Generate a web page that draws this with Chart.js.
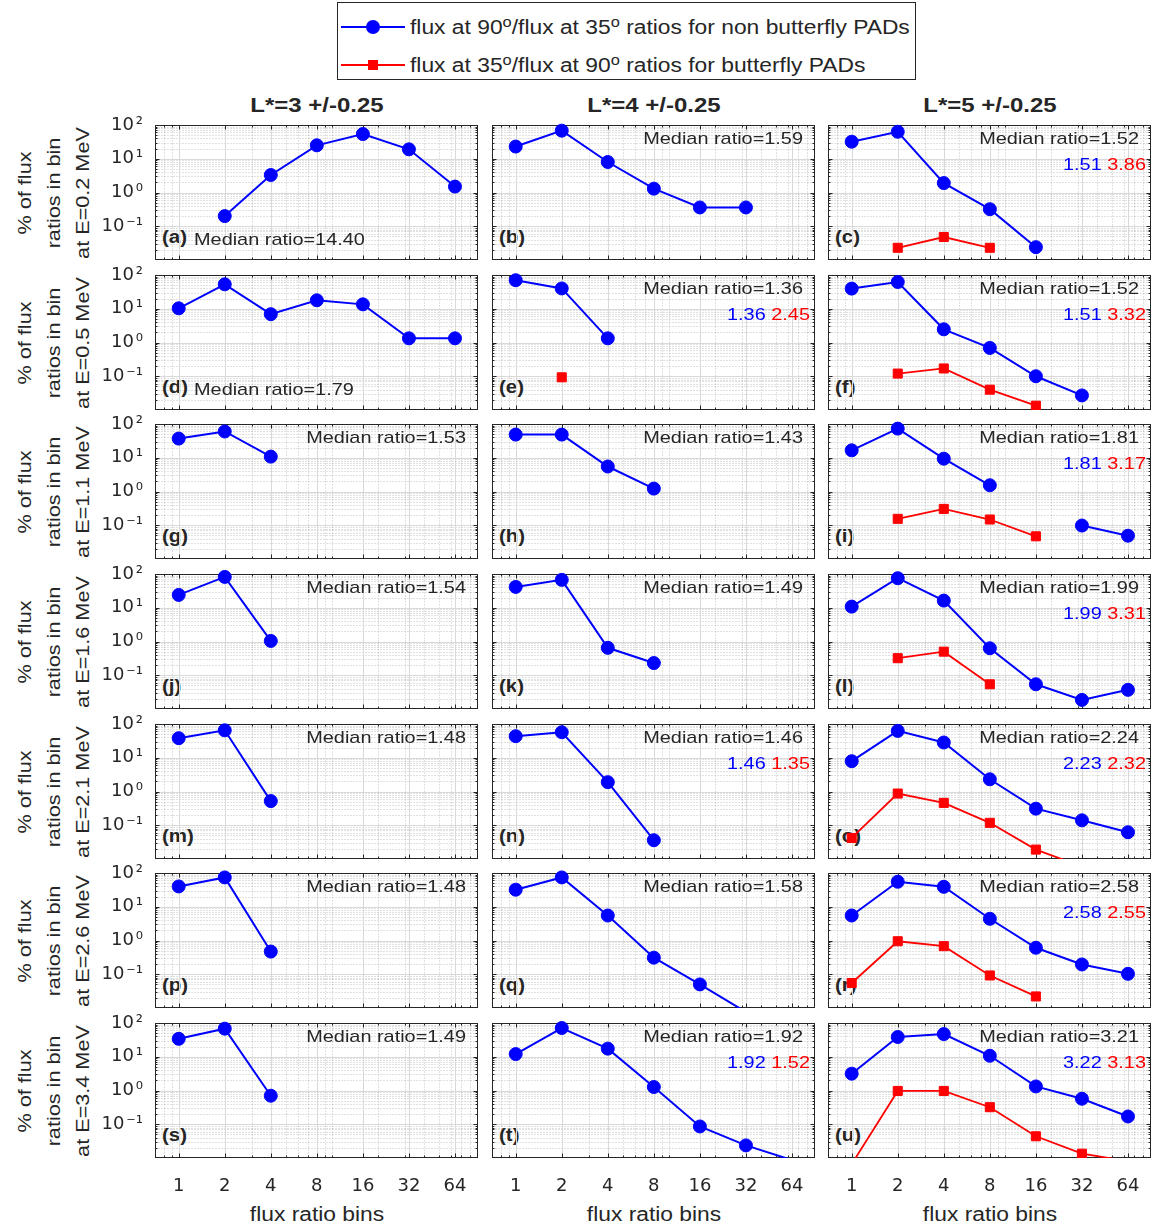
<!DOCTYPE html>
<html><head><meta charset="utf-8">
<script src="https://cdn.jsdelivr.net/npm/chart.js@4/dist/chart.umd.min.js"></script>
<style>
html,body{margin:0;padding:0;background:#fff;}
#fig{position:relative;width:1156px;height:1230px;overflow:hidden;background:#fff;font-family:"Liberation Sans",Arial,sans-serif;color:#262626;}
.t{position:absolute;white-space:nowrap;line-height:1;z-index:1;}
.t.front{z-index:3;}
canvas{position:absolute;z-index:2;}
#legendBox{position:absolute;left:337px;top:2px;width:577px;height:76px;border:1px solid #262626;z-index:0;}
.sw{position:absolute;z-index:1;}
</style></head>
<body><div id="fig"><div id="legendBox"></div></div>
<script>
// ---------------- DATA ----------------
const bins = [1, 2, 4, 8, 16, 32, 64];
const yTickValues = [0.1, 1, 10, 100];
const yTickLabels = ['10\u200A\u207B\u00B9', '10\u200A\u2070', '10\u200A\u00B9', '10\u200A\u00B2'];
const energies = ['0.2', '0.5', '1.1', '1.6', '2.1', '2.6', '3.4'];
const lShells = ['L*=3 +/-0.25', 'L*=4 +/-0.25', 'L*=5 +/-0.25'];
const lettersL3 = ['a', 'd', 'g', 'j', 'm', 'p', 's'];
const lettersL4 = ['b', 'e', 'h', 'k', 'n', 'q', 't'];
const lettersL5 = ['c', 'f', 'i', 'l', 'o', 'r', 'u'];

// % of flux ratios in each bin, non butterfly PADs (blue), rows = energies
const nonButterflyL3 = [
  [null, 0.2, 3.3, 25, 54, 19, 1.5],
  [10.3, 53, 6.9, 17.8, 13.5, 1.33, 1.33],
  [37, 60, 10.8, null, null, null, null],
  [24, 82, 1.04, null, null, null, null],
  [38, 65, 0.52, null, null, null, null],
  [40, 74, 0.47, null, null, null, null],
  [34, 68, 0.70, null, null, null, null]
];
const nonButterflyL4 = [
  [23, 68, 8, 1.3, 0.36, 0.36, null],
  [70, 40, 1.33, null, null, null, null],
  [48.5, 48.5, 5.5, 1.22, null, null, null],
  [41.5, 67, 0.65, 0.23, null, null, null],
  [43.5, 57, 1.89, 0.036, null, null, null],
  [32, 74, 5.5, 0.31, 0.05, 0.0076, null],
  [12, 71, 17.4, 1.27, 0.086, 0.0236, 0.0087]
];
const nonButterflyL5 = [
  [32, 63, 1.9, 0.32, 0.024, null, null],
  [39.5, 62, 2.46, 0.69, 0.1, 0.027, null],
  [16.6, 73, 9.4, 1.53, null, 0.098, 0.049],
  [10.8, 75, 16.3, 0.63, 0.054, 0.0186, 0.037],
  [7.9, 62.5, 28.3, 2.3, 0.31, 0.14, 0.062],
  [5.5, 55, 39, 4.4, 0.61, 0.195, 0.103],
  [3.15, 38.5, 47, 10.7, 1.32, 0.57, 0.17]
];
// butterfly PADs (red)
const butterflyL4 = [
  null,
  [null, 0.093, null, null, null, null, null],
  null, null, null, null, null
];
const butterflyL5 = [
  [null, 0.023, 0.048, 0.023, null, null, null],
  [null, 0.12, 0.17, 0.04, 0.0134, null, null],
  [null, 0.155, 0.305, 0.148, 0.047, null, null],
  [null, 0.32, 0.50, 0.054, null, null, null],
  [0.042, 0.87, 0.46, 0.118, 0.019, 0.006, null],
  [0.055, 0.95, 0.68, 0.092, 0.022, null, null],
  [0.0066, 0.97, 0.97, 0.32, 0.044, 0.0134, 0.0081]
];
const medianL3 = ['14.40', '1.79', '1.53', '1.54', '1.48', '1.48', '1.49'];
const medianL4 = ['1.59', '1.36', '1.43', '1.49', '1.46', '1.58', '1.92'];
const medianL5 = ['1.52', '1.52', '1.81', '1.99', '2.24', '2.58', '3.21'];
const splitMedianL4 = [null, ['1.36', '2.45'], null, null, ['1.46', '1.35'], null, ['1.92', '1.52']];
const splitMedianL5 = [['1.51', '3.86'], ['1.51', '3.32'], ['1.81', '3.17'], ['1.99', '3.31'], ['2.23', '2.32'], ['2.58', '2.55'], ['3.22', '3.13']];

// ---------------- LAYOUT ----------------
const fig = document.getElementById('fig');
const COL_LEFT = [155, 492, 828];
const ROW_TOP = [125, 275, 424, 574, 724, 873, 1023];
const PW = 323, PH = 135;
const ML = 60, MR = 10, MT = 10, MB = 45;
const SX = 1.17;
const BLUE = '#0000ff', RED = '#ff0000', INK = '#262626';

function addText(html, x, y, o) {
  const d = document.createElement('div');
  d.className = 't' + (o.front ? ' front' : '');
  d.innerHTML = html;
  d.style.left = x + 'px';
  d.style.top = y + 'px';
  d.style.fontSize = o.size + 'px';
  if (o.bold) d.style.fontWeight = 'bold';
  if (o.color) d.style.color = o.color;
  const al = o.align || 'left';
  const tx = al === 'right' ? '-100%' : al === 'center' ? '-50%' : '0';
  d.style.transformOrigin = al === 'right' ? 'right center' : al === 'center' ? 'center center' : 'left center';
  d.style.transform = `translate(${tx},-50%)` + (o.rotate ? ` rotate(${o.rotate}deg)` : '') + ` scaleX(${o.sx || SX})`;
  fig.appendChild(d);
  return d;
}

// legend
const sup = '<span style="font-size:0.72em;position:relative;top:-0.5em">o</span>';
function swatch(y, color, shape) {
  const ln = document.createElement('div');
  ln.className = 'sw';
  Object.assign(ln.style, {left: '341px', top: (y - 1) + 'px', width: '64px', height: '2px', background: color});
  fig.appendChild(ln);
  const mk = document.createElement('div');
  mk.className = 'sw';
  const s = shape === 'circle' ? 14 : 10;
  Object.assign(mk.style, {left: (373 - s / 2) + 'px', top: (y - s / 2) + 'px', width: s + 'px', height: s + 'px', background: color, borderRadius: shape === 'circle' ? '50%' : '0'});
  fig.appendChild(mk);
}
swatch(27, BLUE, 'circle');
swatch(65, RED, 'rect');
addText('flux at 90' + sup + '/flux at 35' + sup + ' ratios for non butterfly PADs', 410, 28, {size: 19.5});
addText('flux at 35' + sup + '/flux at 90' + sup + ' ratios for butterfly PADs', 410, 66, {size: 19.5});

// column titles and x titles
lShells.forEach((t, c) => {
  const cx = COL_LEFT[c] + PW / 2;
  addText(t, cx, 105, {size: 20.5, bold: true, align: 'center'});
  addText('flux ratio bins', cx, 1215, {size: 19.5, align: 'center'});
});
// y side titles
energies.forEach((e, r) => {
  const cy = ROW_TOP[r] + PH / 2;
  addText('% of flux', 25, cy, {size: 18.5, align: 'center', rotate: -90});
  addText('ratios in bin', 54, cy, {size: 18.5, align: 'center', rotate: -90});
  addText('at E=' + e + ' MeV', 83, cy, {size: 18.5, align: 'center', rotate: -90});
});

// grid / box plugin (MATLAB look)
const minorX = [0.8, 0.9, 3, 5, 6, 7, 9, 10, 20, 30, 40, 50, 60, 70, 80, 90];
const minorY = [];
for (let e = -2; e < 2; e++) for (let m = 2; m <= 9; m++) minorY.push(m * Math.pow(10, e));
const matlabAxes = {
  id: 'matlabAxes',
  beforeDatasetsDraw(chart) {
    const {ctx, chartArea: a, scales: {x, y}} = chart;
    const L = Math.round(a.left) + 0.5, R = Math.round(a.right) - 0.5;
    const T = Math.round(a.top) + 0.5, B = Math.round(a.bottom) - 0.5;
    const px = v => Math.round(x.getPixelForValue(v)) + 0.5;
    const py = v => Math.round(y.getPixelForValue(v)) + 0.5;
    ctx.save();
    ctx.lineWidth = 1;
    ctx.setLineDash([1, 2]);
    ctx.strokeStyle = 'rgba(38,38,38,0.28)';
    ctx.beginPath();
    minorX.forEach(v => { const p = px(v); if (p > L + 1 && p < R - 1) { ctx.moveTo(p, T); ctx.lineTo(p, B); } });
    minorY.forEach(v => { const p = py(v); if (p > T + 1 && p < B - 1) { ctx.moveTo(L, p); ctx.lineTo(R, p); } });
    ctx.stroke();
    ctx.setLineDash([]);
    ctx.strokeStyle = '#d9d9d9';
    ctx.beginPath();
    bins.forEach(v => { const p = px(v); ctx.moveTo(p, T); ctx.lineTo(p, B); });
    [0.1, 1, 10].forEach(v => { const p = py(v); ctx.moveTo(L, p); ctx.lineTo(R, p); });
    ctx.stroke();
    // ticks inward
    ctx.strokeStyle = INK;
    ctx.beginPath();
    bins.forEach(v => { const p = px(v); ctx.moveTo(p, B); ctx.lineTo(p, B - 4); ctx.moveTo(p, T); ctx.lineTo(p, T + 4); });
    minorX.forEach(v => { const p = px(v); if (p > L + 1 && p < R - 1) { ctx.moveTo(p, B); ctx.lineTo(p, B - 2); ctx.moveTo(p, T); ctx.lineTo(p, T + 2); } });
    [0.1, 1, 10].forEach(v => { const p = py(v); ctx.moveTo(L, p); ctx.lineTo(L + 4, p); ctx.moveTo(R, p); ctx.lineTo(R - 4, p); });
    minorY.forEach(v => { const p = py(v); if (p > T + 1 && p < B - 1) { ctx.moveTo(L, p); ctx.lineTo(L + 2, p); ctx.moveTo(R, p); ctx.lineTo(R - 2, p); } });
    ctx.stroke();
    ctx.strokeRect(L, T, R - L, B - T);
    ctx.restore();
  }
};

const nonButterfly = [nonButterflyL3, nonButterflyL4, nonButterflyL5];
const butterfly = [null, butterflyL4, butterflyL5];
const medians = [medianL3, medianL4, medianL5];
const splitMedians = [null, splitMedianL4, splitMedianL5];
const letters = [lettersL3, lettersL4, lettersL5];

function inRange(ctx) {
  const v = ctx.raw ? ctx.raw.y : null;
  return v != null && v >= 0.01 && v <= 100;
}

for (let c = 0; c < 3; c++) {
  for (let r = 0; r < 7; r++) {
    const left = COL_LEFT[c], top = ROW_TOP[r];
    // panel label under the data; median texts above the grid
    addText('(' + letters[c][r] + ')', left + 7, top + PH - 22, {size: 17.5, bold: true});
    if (c === 0 && r < 2) {
      addText('Median ratio=' + medians[c][r], left + 39, top + PH - 21, {size: 17, front: true});
    } else {
      addText('Median ratio=' + medians[c][r], left + PW - 12, top + 13, {size: 17, align: 'right', front: true});
    }
    const sm = splitMedians[c] ? splitMedians[c][r] : null;
    if (sm) {
      addText('<span style="color:' + BLUE + '">' + sm[0] + '</span> <span style="color:' + RED + '">' + sm[1] + '</span>',
        left + PW - 5, top + 39, {size: 17, align: 'right', front: true});
    }

    const cv = document.createElement('canvas');
    const W = PW + ML + MR, H = PH + MT + MB;
    cv.width = W; cv.height = H;
    cv.style.left = (left - ML) + 'px';
    cv.style.top = (top - MT) + 'px';
    cv.style.width = W + 'px'; cv.style.height = H + 'px';
    fig.appendChild(cv);

    const datasets = [];
    const blue = nonButterfly[c][r];
    const red = butterfly[c] ? butterfly[c][r] : null;
    const clip = {left: 10, top: 10, right: 10, bottom: 0};
    if (red) {
      datasets.push({
        label: 'butterfly', data: bins.map((b, i) => ({x: b, y: red[i]})),
        borderColor: RED, backgroundColor: RED, pointBackgroundColor: RED, pointBorderColor: RED,
        borderWidth: 1.8, pointStyle: 'rect', pointRadius: ctx => inRange(ctx) ? 6.4 : 0,
        pointBorderWidth: 1, spanGaps: false, tension: 0, clip
      });
    }
    datasets.unshift({
      label: 'non butterfly', data: bins.map((b, i) => ({x: b, y: blue[i]})),
      borderColor: BLUE, backgroundColor: BLUE, pointBackgroundColor: BLUE, pointBorderColor: BLUE,
      borderWidth: 2, pointStyle: 'circle', pointRadius: ctx => inRange(ctx) ? 6.5 : 0,
      pointBorderWidth: 1, spanGaps: false, tension: 0, clip
    });

    new Chart(cv, {
      type: 'line',
      data: {datasets},
      options: {
        animation: false, responsive: false, devicePixelRatio: 1, events: [],
        layout: {padding: {left: 0, top: MT, right: MR, bottom: 0}},
        plugins: {legend: {display: false}, tooltip: {enabled: false}, title: {display: false}},
        scales: {
          x: {
            type: 'logarithmic', min: Math.SQRT1_2, max: 64 * Math.SQRT2,
            afterBuildTicks: s => { s.ticks = bins.map(v => ({value: v})); },
            afterFit: s => { s.height = MB; s.paddingLeft = 0; s.paddingRight = 0; },
            grid: {display: false, drawTicks: false}, border: {display: false},
            ticks: {display: r === 6, autoSkip: false, maxRotation: 0, padding: 18,
              font: {family: 'DejaVu Sans', size: 18}, color: INK,
              callback: v => String(v)}
          },
          y: {
            type: 'logarithmic', min: 0.01, max: 100,
            afterBuildTicks: s => { s.ticks = yTickValues.map(v => ({value: v})); },
            afterFit: s => { s.width = ML; s.paddingTop = 0; s.paddingBottom = 0; },
            grid: {display: false, drawTicks: false}, border: {display: false},
            ticks: {display: c === 0, autoSkip: false, padding: 12,
              font: {family: 'DejaVu Sans', size: 18}, color: INK,
              callback: v => yTickLabels[yTickValues.indexOf(v)] || ''}
          }
        }
      },
      plugins: [matlabAxes]
    });
  }
}
</script>
</body></html>
